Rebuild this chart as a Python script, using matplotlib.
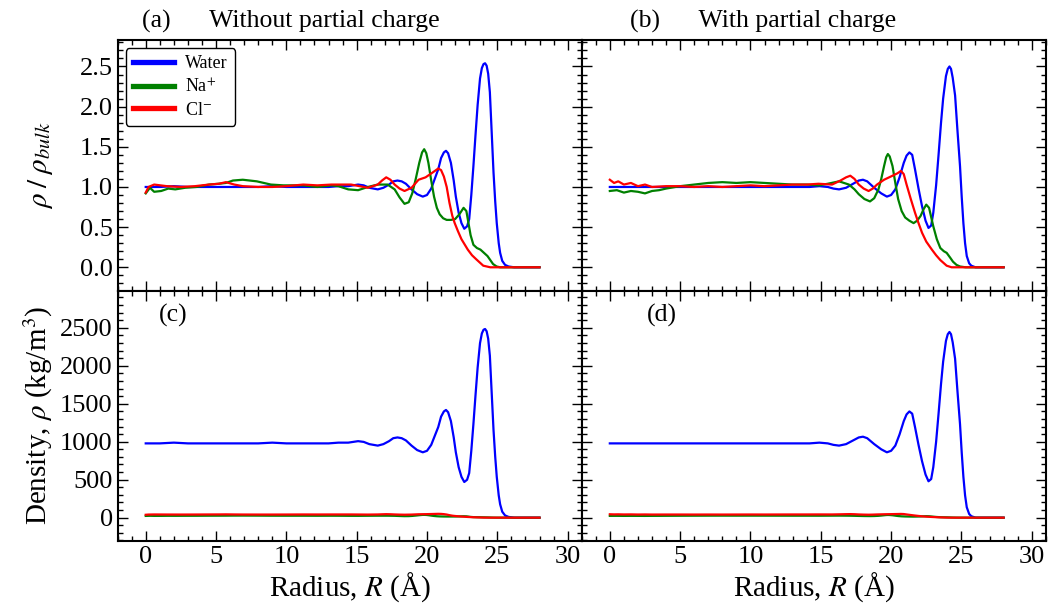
import matplotlib
matplotlib.use("Agg")
import matplotlib.pyplot as plt
from matplotlib.ticker import MultipleLocator
from matplotlib.transforms import offset_copy
import numpy as np

# Relative density profiles, panel (a): without partial charge.
r_water_a = [0, 1, 2, 3, 4, 5, 6, 7, 8, 9, 10, 11, 12, 13, 13.7, 14.4, 15.1, 15.5, 15.9, 16.5,
             16.9, 17.3, 17.6, 17.9, 18.2, 18.5, 18.9, 19.3, 19.7, 20.0, 20.3, 20.55, 20.8, 21.0,
             21.2, 21.35, 21.5, 21.7, 21.9, 22.05, 22.25, 22.45, 22.65, 22.85, 23.0, 23.15, 23.3,
             23.45, 23.6, 23.77, 23.9, 24.02, 24.13, 24.24, 24.35, 24.47, 24.6, 24.73, 24.85, 24.96,
             25.1, 25.2, 25.35, 25.55, 25.8, 26.2, 27, 28]
water_a = [1.0, 1.0, 1.01, 1.0, 1.0, 1.0, 1.0, 1.0, 1.0, 1.01, 1.0, 1.0, 1.0, 1.0, 1.01, 1.01, 1.03,
           1.02, 0.99, 0.97, 0.99, 1.03, 1.07, 1.08, 1.07, 1.04, 0.97, 0.91, 0.88, 0.90, 0.98, 1.10,
           1.22, 1.36, 1.43, 1.45, 1.42, 1.30, 1.08, 0.88, 0.68, 0.55, 0.48, 0.51, 0.60, 0.90, 1.26,
           1.65, 2.02, 2.35, 2.48, 2.53, 2.54, 2.51, 2.41, 2.18, 1.68, 1.18, 0.82, 0.55, 0.30, 0.18,
           0.08, 0.03, 0.01, 0.0, 0.0, 0.0]

r_na_a = [0, 0.3, 0.6, 1.1, 1.6, 2.1, 2.8, 3.6, 4.5, 5.2, 5.7, 6.2, 6.9, 7.9, 8.9, 9.8, 11.2, 12.2,
          13.2, 13.7, 14.4, 15.1, 15.8, 16.5, 17.2, 17.7, 18.05, 18.4, 18.7, 18.95, 19.2, 19.45,
          19.65, 19.8, 19.95, 20.1, 20.3, 20.5, 20.7, 20.9, 21.15, 21.4, 21.7, 22.0, 22.3, 22.6,
          22.8, 22.95, 23.1, 23.3, 23.55, 23.8, 24.05, 24.3, 24.5, 24.7, 24.95, 25.2, 26, 28]
na_a = [0.92, 0.99, 0.94, 0.95, 0.98, 0.97, 0.99, 1.0, 1.03, 1.04, 1.05, 1.08, 1.09, 1.07, 1.03,
        1.02, 1.02, 1.0, 1.02, 1.01, 0.97, 0.96, 1.0, 1.03, 1.03, 0.97, 0.87, 0.79, 0.81, 0.92,
        1.10, 1.30, 1.43, 1.47, 1.42, 1.30, 1.08, 0.88, 0.74, 0.66, 0.61, 0.59, 0.59, 0.60, 0.66,
        0.74, 0.70, 0.55, 0.40, 0.28, 0.24, 0.22, 0.18, 0.14, 0.09, 0.04, 0.01, 0.0, 0.0, 0.0]

r_cl_a = [0, 0.2, 0.6, 1.5, 2.5, 3.5, 4.5, 5.2, 5.7, 6.3, 6.9, 8, 9, 10, 11.2, 12.2, 13.2, 13.7,
          14.6, 15.8, 16.5, 16.8, 17.1, 17.4, 17.7, 18.05, 18.4, 18.9, 19.4, 19.9, 20.4, 20.8,
          21.0, 21.2, 21.4, 21.6, 21.8, 21.97, 22.2, 22.45, 22.9, 23.2, 23.5, 24.0, 24.5, 28]
cl_a = [0.93, 1.0, 1.03, 1.01, 1.0, 1.01, 1.03, 1.04, 1.06, 1.03, 1.01, 1.0, 1.0, 1.01, 1.03, 1.02,
        1.03, 1.03, 1.03, 0.99, 1.03, 1.08, 1.12, 1.09, 1.03, 0.98, 0.95, 0.99, 1.09, 1.12, 1.18,
        1.23, 1.21, 1.13, 1.0, 0.80, 0.64, 0.55, 0.45, 0.35, 0.22, 0.15, 0.10, 0.02, 0.0, 0.0]

# Panel (b): with partial charge.
r_water_b = [0, 1, 2, 3, 4, 5, 6, 7, 8, 9, 10, 11, 12, 13, 13.5, 14.2, 14.9, 15.5, 15.9, 16.3,
             16.8, 17.3, 17.7, 18.0, 18.3, 18.8, 19.3, 19.7, 20.0, 20.3, 20.6, 20.9, 21.1, 21.3,
             21.5, 21.7, 21.95, 22.2, 22.45, 22.66, 22.85, 23.0, 23.2, 23.37, 23.55, 23.7, 23.9,
             24.03, 24.15, 24.26, 24.38, 24.55, 24.72, 24.9, 25.02, 25.14, 25.26, 25.38, 25.55,
             25.7, 26.0, 27, 28]
water_b = [1.0, 1.0, 1.0, 1.0, 1.0, 1.0, 1.0, 1.0, 1.0, 1.0, 1.0, 1.0, 1.0, 1.0, 1.0, 1.0, 1.01,
           1.0, 0.98, 0.97, 0.99, 1.04, 1.08, 1.09, 1.07, 0.99, 0.92, 0.88, 0.90, 0.97, 1.12, 1.30,
           1.39, 1.43, 1.40, 1.22, 0.98, 0.76, 0.58, 0.49, 0.52, 0.68, 1.02, 1.39, 1.80, 2.10, 2.38,
           2.47, 2.50, 2.47, 2.36, 2.14, 1.70, 1.26, 0.88, 0.55, 0.30, 0.14, 0.05, 0.02, 0.0, 0.0,
           0.0]

r_na_b = [0, 0.5, 1, 1.5, 2, 2.5, 3, 3.5, 4, 5, 6, 7, 8, 9, 10, 11, 12, 13, 14, 14.84, 15.5, 16.3,
          17.0, 17.4, 17.7, 18.1, 18.5, 18.8, 19.1, 19.3, 19.5, 19.65, 19.77, 19.9, 20.1, 20.3,
          20.5, 20.75, 21.0, 21.3, 21.6, 21.85, 22.1, 22.3, 22.5, 22.7, 23.0, 23.25, 23.5, 23.75,
          23.95, 24.2, 24.4, 24.65, 24.9, 25.3, 28]
na_b = [0.95, 0.96, 0.93, 0.95, 0.94, 0.92, 0.95, 0.96, 0.98, 1.01, 1.03, 1.05, 1.06, 1.05, 1.06,
        1.05, 1.04, 1.03, 1.03, 1.02, 1.04, 1.07, 1.03, 0.97, 0.91, 0.85, 0.82, 0.86, 0.97, 1.10,
        1.26, 1.37, 1.41, 1.38, 1.26, 1.05, 0.85, 0.70, 0.62, 0.58, 0.55, 0.58, 0.64, 0.72, 0.78,
        0.74, 0.51, 0.35, 0.24, 0.20, 0.18, 0.12, 0.07, 0.03, 0.01, 0.0, 0.0]

r_cl_b = [0, 0.3, 0.6, 1.0, 1.5, 2, 2.5, 3, 4, 5, 6, 7, 8, 9, 10, 11, 12, 13, 14, 14.84, 15.8,
          16.4, 16.8, 17.1, 17.4, 17.7, 18.05, 18.4, 18.7, 19.0, 19.5, 20.1, 20.45, 20.7, 20.9,
          21.1, 21.4, 21.7, 21.95, 22.2, 22.5, 22.9, 23.2, 23.5, 23.95, 24.3, 28]
cl_b = [1.09, 1.05, 1.07, 1.03, 1.05, 1.01, 1.03, 1.0, 1.01, 1.01, 1.0, 1.01, 1.0, 1.01, 1.02, 1.01,
        1.02, 1.03, 1.03, 1.04, 1.03, 1.08, 1.12, 1.14, 1.10, 1.03, 0.98, 0.95, 0.98, 1.03, 1.09,
        1.14, 1.17, 1.20, 1.16, 1.03, 0.85, 0.68, 0.55, 0.43, 0.32, 0.22, 0.15, 0.09, 0.02, 0.0, 0.0]

# Bulk mass densities (kg/m^3) used to turn the ratios into the lower panels.
bulk_water = 978
bulk_na = 25
bulk_cl = 41

labels = ["Water", "Na$^{+}$", "Cl$^{-}$"]
colors = ["#0000ff", "#008000", "#ff0000"]
titles = ["(a)      Without partial charge", "(b)      With partial charge"]
title_x = [0.052, 0.104]
letters_bottom = ["(c)", "(d)"]
letter_x = [0.09, 0.14]


def style_axis(ax):
    ax.tick_params(which="both", direction="in", top=True, right=True, labelsize=19, width=1.0)
    ax.tick_params(which="major", length=7)
    ax.tick_params(which="minor", length=3.5)
    ax.xaxis.set_major_locator(MultipleLocator(5))
    ax.xaxis.set_minor_locator(MultipleLocator(1))
    for spine in ax.spines.values():
        spine.set_linewidth(1.5)


def script():
    plt.rcParams["font.family"] = "serif"
    plt.rcParams["font.serif"] = ["Liberation Serif", "DejaVu Serif"]
    plt.rcParams["mathtext.fontset"] = "stix"

    fig, axes = plt.subplots(2, 2, figsize=(10.5, 6.15), dpi=100, sharex=True, sharey="row")
    fig.subplots_adjust(left=0.112, right=0.996, top=0.935, bottom=0.12, wspace=0, hspace=0)

    panels = [
        [(r_water_a, water_a), (r_na_a, na_a), (r_cl_a, cl_a)],
        [(r_water_b, water_b), (r_na_b, na_b), (r_cl_b, cl_b)],
    ]
    bulks = [bulk_water, bulk_na, bulk_cl]

    for col, series in enumerate(panels):
        top = axes[0, col]
        bottom = axes[1, col]
        for (r, v), color, label, bulk in zip(series, colors, labels, bulks):
            top.plot(r, v, color=color, lw=1.6, label=label)
            bottom.plot(r, np.array(v) * bulk, color=color, lw=1.6)

        # Panel titles above the top row.
        trans = offset_copy(top.transAxes, fig=fig, y=9, units="points")
        top.text(title_x[col], 1.0, titles[col], transform=trans, fontsize=18.5, va="baseline")

        # Panel letters inside the bottom row.
        bottom.text(letter_x[col], 0.877, letters_bottom[col], transform=bottom.transAxes,
                    fontsize=18.5, va="baseline")

    for ax in axes.flat:
        style_axis(ax)

    axes[0, 0].set_xlim(-2, 31)
    axes[0, 0].set_ylim(-0.29, 2.83)
    axes[0, 0].yaxis.set_major_locator(MultipleLocator(0.5))
    axes[0, 0].yaxis.set_minor_locator(MultipleLocator(0.1))
    axes[1, 0].set_ylim(-310, 2990)
    axes[1, 0].yaxis.set_major_locator(MultipleLocator(500))
    axes[1, 0].yaxis.set_minor_locator(MultipleLocator(100))

    axes[0, 0].set_ylabel(r"$\rho\;/\;\rho_{bulk}$", fontsize=21)
    axes[1, 0].set_ylabel(r"Density, $\rho$ (kg/m$^3$)", fontsize=21)
    for ax in axes[1]:
        ax.set_xlabel(r"Radius, $R$ (Å)", fontsize=21, labelpad=2)
    fig.align_ylabels(axes[:, 0])

    # Legend in panel (a).
    leg = axes[0, 0].legend(loc="upper left", fontsize=13, handlelength=2.3, labelspacing=0.3,
                            handletextpad=0.6, borderaxespad=0.45, framealpha=1, fancybox=True)
    leg.get_frame().set_edgecolor("black")
    leg.get_frame().set_linewidth(1.0)
    for line in leg.get_lines():
        line.set_linewidth(3.8)

    fig.savefig("out.png", dpi=100)


if __name__ == "__main__":
    script()
